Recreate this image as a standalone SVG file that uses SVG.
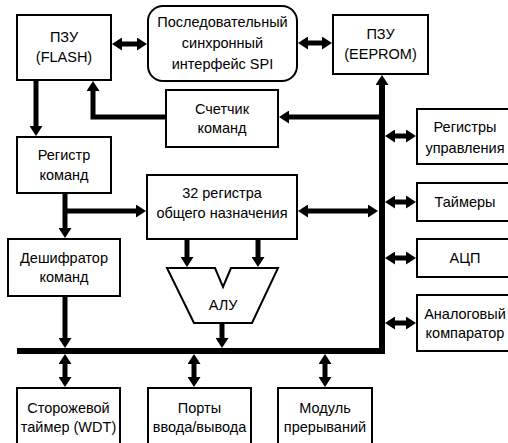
<svg xmlns="http://www.w3.org/2000/svg" width="508" height="443" viewBox="0 0 508 443">
<style>
.b{fill:#fff;stroke:#000;stroke-width:2}
.t{font-family:"Liberation Sans",Arial,sans-serif;font-size:14.5px;text-anchor:middle;fill:#000}
.c{fill:none;stroke:#000;stroke-width:5;stroke-linecap:butt;stroke-linejoin:miter}
.s{marker-end:url(#ah)}
.d{marker-start:url(#ah);marker-end:url(#ah)}
</style>
<defs>
<marker id="ah" viewBox="0 0 10 13" refX="5" refY="6.5" markerWidth="10" markerHeight="13" markerUnits="userSpaceOnUse" orient="auto-start-reverse">
<path d="M0,0 L10,6.5 L0,13 z" fill="#000"/>
</marker>
</defs>
<rect width="508" height="443" fill="#fff"/>
<g id="connectors">
<path class="c d" d="M117,44 H142"/>
<path class="c d" d="M303,43 H327"/>
<path class="c s" d="M36,80 V131"/>
<path class="c s" d="M166,117 H93 V86"/>
<path class="c s" d="M382,117 H284"/>
<path class="c s" d="M17,351 H382 V80" style="stroke-width:6"/>
<path class="c s" d="M65,193 V233"/>
<path class="c s" d="M65,211 H141"/>
<path class="c d" d="M303,211 H373"/>
<path class="c d" d="M390,136 H411"/>
<path class="c d" d="M390,202 H411"/>
<path class="c d" d="M390,258 H411"/>
<path class="c d" d="M390,323 H411"/>
<path class="c s" d="M187,240 V262"/>
<path class="c s" d="M258,240 V262"/>
<path class="c s" d="M222,324 V343"/>
<path class="c s" d="M65,297 V343"/>
<path class="c d" d="M65,359 V382"/>
<path class="c d" d="M194,359 V382"/>
<path class="c d" d="M325,359 V382"/>
</g>
<g id="flash">
<rect class="b" x="17" y="15" width="94" height="65"/>
<text class="t" x="64" y="42">ПЗУ</text>
<text class="t" x="64" y="62">(FLASH)</text>
</g>
<g id="spi">
<rect class="b" x="148" y="6" width="149" height="75" rx="15"/>
<text class="t" x="222.5" y="27">Последовательный</text>
<text class="t" x="222.5" y="48">синхронный</text>
<text class="t" x="222.5" y="69">интерфейс SPI</text>
</g>
<g id="eeprom">
<rect class="b" x="333" y="15" width="95" height="59"/>
<text class="t" x="380.5" y="39">ПЗУ</text>
<text class="t" x="380.5" y="59">(EEPROM)</text>
</g>
<g id="counter">
<rect class="b" x="166" y="90" width="112" height="57"/>
<text class="t" x="222" y="114">Счетчик</text>
<text class="t" x="222" y="133">команд</text>
</g>
<g id="ir">
<rect class="b" x="17" y="137" width="94" height="56"/>
<text class="t" x="64" y="160">Регистр</text>
<text class="t" x="64" y="180">команд</text>
</g>
<g id="gpr">
<rect class="b" x="147" y="175" width="150" height="64"/>
<text class="t" x="222" y="198">32 регистра</text>
<text class="t" x="222" y="218">общего назначения</text>
</g>
<g id="decoder">
<rect class="b" x="8" y="239" width="112" height="57"/>
<text class="t" x="64" y="263">Дешифратор</text>
<text class="t" x="64" y="282">команд</text>
</g>
<g id="alu">
<polygon class="b" points="167,268 215,268 223,287 231,268 278,268 252,323 194,323"/>
<text class="t" x="223" y="310">АЛУ</text>
</g>
<g id="ctrl">
<rect class="b" x="417" y="109" width="96" height="55"/>
<text class="t" x="465" y="132">Регистры</text>
<text class="t" x="465" y="153">управления</text>
</g>
<g id="timers">
<rect class="b" x="417" y="183" width="96" height="38"/>
<text class="t" x="465" y="207">Таймеры</text>
</g>
<g id="adc">
<rect class="b" x="417" y="239" width="96" height="38"/>
<text class="t" x="465" y="263">АЦП</text>
</g>
<g id="comp">
<rect class="b" x="417" y="295" width="96" height="56"/>
<text class="t" x="465" y="319">Аналоговый</text>
<text class="t" x="465" y="338">компаратор</text>
</g>
<g id="wdt">
<rect class="b" x="17" y="388" width="103" height="70"/>
<text class="t" x="68.5" y="413">Сторожевой</text>
<text class="t" x="68.5" y="432">таймер (WDT)</text>
</g>
<g id="ports">
<rect class="b" x="148" y="388" width="103" height="70"/>
<text class="t" x="199.5" y="413">Порты</text>
<text class="t" x="199.5" y="432">ввода/вывода</text>
</g>
<g id="irq">
<rect class="b" x="278" y="388" width="94" height="70"/>
<text class="t" x="325" y="413">Модуль</text>
<text class="t" x="325" y="432">прерываний</text>
</g>
</svg>
